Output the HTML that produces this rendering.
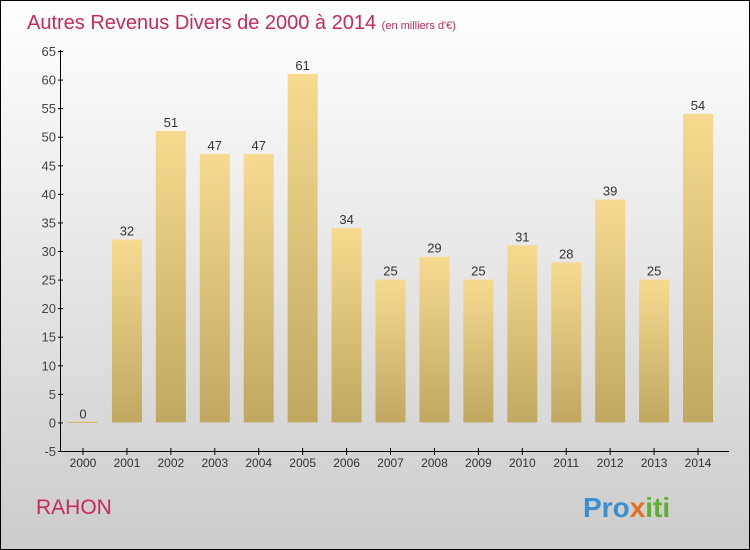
<!DOCTYPE html>
<html><head><meta charset="utf-8"><style>
body{margin:0;}
#c{width:748px;height:548px;border:1px solid #000;background:linear-gradient(#fff,#ccc);position:relative;font-family:"Liberation Sans",sans-serif;}
</style></head><body>
<div id="c">
<svg id="s" width="748" height="548" style="position:absolute;left:0;top:0">
<defs><linearGradient id="g" x1="0" y1="0" x2="0" y2="1"><stop offset="0" stop-color="#f6da90"/><stop offset="1" stop-color="#c0a860"/></linearGradient></defs>
<text x="26" y="28" font-size="20" fill="#c8285a">Autres Revenus Divers de 2000 à 2014 <tspan font-size="11">(en milliers d'€)</tspan></text>
<text x="35" y="513" font-size="21" fill="#c8285a">RAHON</text>
<text x="582" y="516" font-size="28" font-weight="bold"><tspan fill="#3a8fd0">Pro</tspan><tspan fill="#e07020">x</tspan><tspan fill="#60b030">iti</tspan></text>
<g id="ax"></g><g id="bars"></g>
</svg></div>
<script>
const years=["2000","2001","2002","2003","2004","2005","2006","2007","2008","2009","2010","2011","2012","2013","2014"];
const values=[0,32,51,47,47,61,34,25,29,25,31,28,39,25,54];
const ticks=[-5,0,5,10,15,20,25,30,35,40,45,50,55,60,65];
const NS="http://www.w3.org/2000/svg";
const y=v=>450-(v+5)*400/70;
const x=i=>82+i*43.93;
function mk(t,a,p){const e=document.createElementNS(NS,t);for(const k in a)e.setAttribute(k,a[k]);p.appendChild(e);return e;}
const ax=document.getElementById('ax'),bg=document.getElementById('bars');
const yl=mk('line',{x1:59.5,y1:49,x2:59.5,y2:450.5,stroke:'#000'},ax);


const xl=mk('line',{x1:59,y1:450.5,x2:728,y2:450.5,stroke:'#000'},ax);


ticks.forEach(t=>{
 mk('line',{x1:57,x2:62,y1:y(t)+.5,y2:y(t)+.5,stroke:'#000'},ax);
 const tx=mk('text',{x:55,y:y(t)+5,'text-anchor':'end','font-size':13,fill:'#444'},ax);tx.textContent=t;
 
 
});
years.forEach((yr,i)=>{
 mk('line',{x1:x(i),x2:x(i),y1:447,y2:454,stroke:'#000'},ax);
 const tx=mk('text',{x:x(i),y:466,'text-anchor':'middle','font-size':12,fill:'#333'},ax);tx.textContent=yr;
 
 
 const v=values[i];
 const top=y(v),h=Math.max(y(0)-top,1.5);
 const r=mk('rect',{x:x(i)-15,y:v===0?y(0)-1:top,width:30,height:h,fill:'url(#g)'},bg);
 
 
 const lb=mk('text',{x:x(i),y:top-4,'text-anchor':'middle','font-size':13,fill:'#333'},bg);lb.textContent=v;
 
 
});
</script>
</body></html>
